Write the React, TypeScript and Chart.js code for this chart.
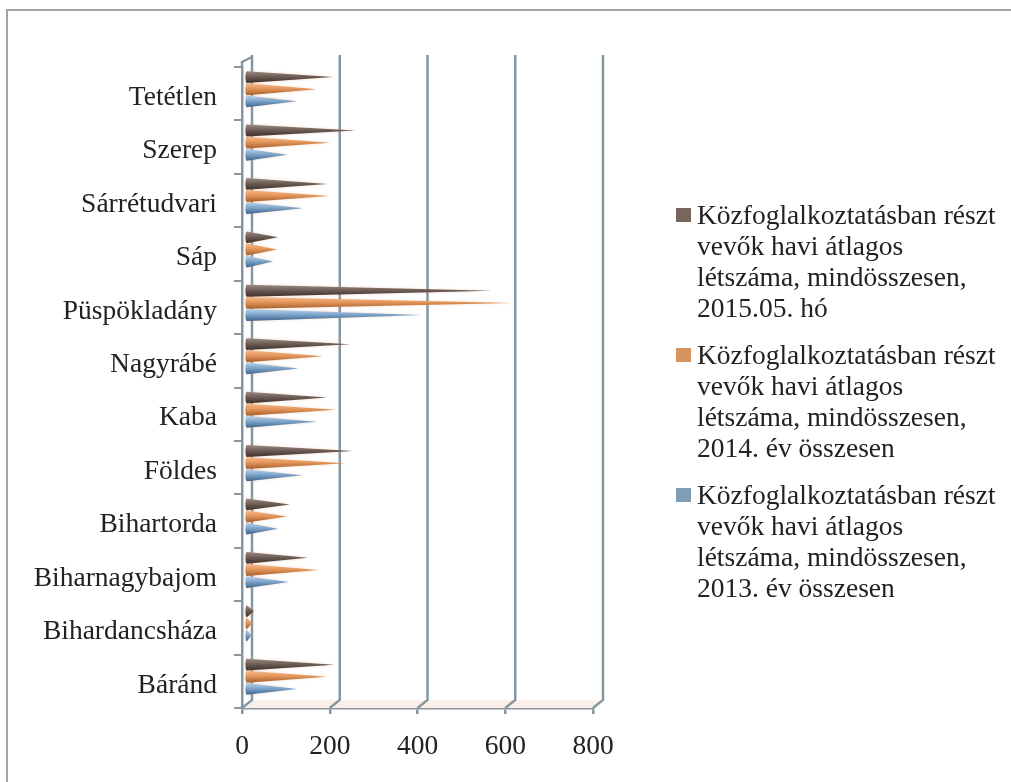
import React, { useEffect, useRef } from "react";
import { Chart, registerables } from "chart.js";

Chart.register(...registerables);

// ---- data ----
const categories = [
  "Tetétlen",
  "Szerep",
  "Sárrétudvari",
  "Sáp",
  "Püspökladány",
  "Nagyrábé",
  "Kaba",
  "Földes",
  "Bihartorda",
  "Biharnagybajom",
  "Bihardancsháza",
  "Báránd",
];
const values2015 = [200, 250, 186, 74, 562, 238, 186, 245, 101, 142, 19, 202];
const values2014 = [163, 193, 190, 72, 610, 177, 206, 227, 95, 165, 15, 186];
const values2013 = [117, 95, 131, 63, 402, 120, 163, 129, 74, 99, 13, 117];
const seriesNames = [
  "Közfoglalkoztatásban részt\nvevők havi átlagos\nlétszáma, mindösszesen,\n2015.05. hó",
  "Közfoglalkoztatásban részt\nvevők havi átlagos\nlétszáma, mindösszesen,\n2014. év összesen",
  "Közfoglalkoztatásban részt\nvevők havi átlagos\nlétszáma, mindösszesen,\n2013. év összesen",
];
const xTicks = [0, 200, 400, 600, 800];

// ---- style ----
const legendColors = ["#76665e", "#d4925f", "#7f9db4"];
const coneColors = [
  ["#9b8c84", "#6e5e56", "#3b2e28"],
  ["#f5bb8c", "#e3965a", "#a55d2a"],
  ["#bcd3e8", "#80a6cc", "#3b638c"],
];
const GRID = "#8797a1";
const FONT = "'Liberation Serif', serif";
const DX = 10; // depth offset x
const DY = -8; // depth offset y
const OX = 3.5; // cone offset
const OY = -4.5;

const deco = {
  id: "deco3d",
  beforeDraw(chart: any) {
    const ctx = chart.ctx;
    ctx.save();
    ctx.fillStyle = "#ffffff";
    ctx.fillRect(0, 0, chart.width, chart.height);
    ctx.strokeStyle = "#a3a3a3";
    ctx.lineWidth = 2;
    ctx.beginPath();
    ctx.moveTo(7, chart.height + 5);
    ctx.lineTo(7, 10);
    ctx.lineTo(chart.width + 5, 10);
    ctx.stroke();
    ctx.restore();
  },
  beforeDatasetsDraw(chart: any) {
    const ctx = chart.ctx;
    const a = chart.chartArea;
    const x = chart.scales.x;
    const x0 = x.getPixelForValue(xTicks[0]);
    const x1 = x.getPixelForValue(xTicks[xTicks.length - 1]);
    ctx.save();
    // floor
    ctx.fillStyle = "#fcefe9";
    ctx.beginPath();
    ctx.moveTo(x0, a.bottom);
    ctx.lineTo(x1, a.bottom);
    ctx.lineTo(x1 + DX, a.bottom + DY);
    ctx.lineTo(x0 + DX, a.bottom + DY);
    ctx.closePath();
    ctx.fill();
    ctx.strokeStyle = GRID;
    ctx.lineWidth = 2.5;
    for (const v of xTicks) {
      const px = x.getPixelForValue(v);
      ctx.beginPath();
      ctx.moveTo(px, a.bottom);
      ctx.lineTo(px + DX, a.bottom + DY);
      ctx.lineTo(px + DX, a.top - 12);
      ctx.stroke();
    }
    // front axis top & slant
    ctx.beginPath();
    ctx.moveTo(x0, a.top);
    ctx.lineTo(x0, a.top - 5);
    ctx.lineTo(x0 + DX, a.top - 10);
    ctx.stroke();
    ctx.restore();
  },
  afterDatasetsDraw(chart: any) {
    const ctx = chart.ctx;
    ctx.save();
    chart.data.datasets.forEach((_ds: any, i: number) => {
      const meta = chart.getDatasetMeta(i);
      const c = coneColors[i];
      meta.data.forEach((el: any) => {
        const p = el.getProps(["x", "y", "base", "height"], true);
        const bx = p.base + OX;
        const tx = p.x + OX;
        const cy = p.y + OY;
        const r = (p.height * 0.98) / 2;
        const g = ctx.createLinearGradient(0, cy - r, 0, cy + r);
        g.addColorStop(0, c[0]);
        g.addColorStop(0.45, c[1]);
        g.addColorStop(1, c[2]);
        ctx.fillStyle = g;
        ctx.shadowColor = "rgba(225,150,110,0.35)";
        ctx.shadowBlur = 3;
        ctx.beginPath();
        ctx.moveTo(bx, cy - r);
        ctx.lineTo(tx, cy);
        ctx.lineTo(bx, cy + r);
        ctx.ellipse(bx, cy, r * 0.22, r, 0, Math.PI / 2, Math.PI * 1.5);
        ctx.closePath();
        ctx.fill();
      });
    });
    ctx.restore();
  },
};

export default function App() {
  const ref = useRef<HTMLCanvasElement | null>(null);

  useEffect(() => {
    if (!ref.current) return;
    const chart = new Chart(ref.current, {
      type: "bar",
      data: {
        labels: categories,
        datasets: [
          { label: seriesNames[0], data: values2015, backgroundColor: "rgba(0,0,0,0)" },
          { label: seriesNames[1], data: values2014, backgroundColor: "rgba(0,0,0,0)" },
          { label: seriesNames[2], data: values2013, backgroundColor: "rgba(0,0,0,0)" },
        ],
      },
      options: {
        indexAxis: "y",
        responsive: false,
        animation: false,
        devicePixelRatio: 1,
        layout: { padding: { left: 0, top: 67, right: 418, bottom: 0 } },
        datasets: { bar: { categoryPercentage: 0.68, barPercentage: 1.0 } },
        plugins: { legend: { display: false }, tooltip: { enabled: false } },
        scales: {
          x: {
            type: "linear",
            min: 0,
            max: 800,
            afterFit: (s: any) => {
              s.height = 74;
            },
            afterBuildTicks: (s: any) => {
              s.ticks = xTicks.map((v) => ({ value: v }));
            },
            grid: { drawOnChartArea: false, drawTicks: true, tickLength: 6, color: GRID, lineWidth: 2.5 },
            border: { display: true, color: GRID, width: 2.5 },
            ticks: { font: { family: FONT, size: 27.5 }, color: "#222", padding: 16 },
          },
          y: {
            type: "category",
            afterFit: (s: any) => {
              s.width = 242;
            },
            grid: { drawOnChartArea: false, drawTicks: true, tickLength: 8, color: GRID, lineWidth: 2, offset: true },
            border: { display: true, color: GRID, width: 2.5 },
            ticks: { font: { family: FONT, size: 27.5 }, color: "#222", padding: 17, labelOffset: 4 },
          },
        },
      },
      plugins: [deco],
    });
    return () => chart.destroy();
  }, []);

  return (
    <div
      style={{
        position: "absolute",
        left: 0,
        top: 0,
        width: 1011,
        height: 782,
        overflow: "hidden",
        background: "#fff",
      }}
    >
      <canvas ref={ref} width={1011} height={782} style={{ display: "block" }} />
      <div style={{ position: "absolute", left: 676, top: 199 }}>
        {seriesNames.map((name, i) => (
          <div key={i} style={{ position: "relative", marginBottom: 16 }}>
            <div
              style={{
                position: "absolute",
                left: 0,
                top: 9,
                width: 15,
                height: 14,
                background: legendColors[i],
              }}
            />
            <div
              style={{
                marginLeft: 21,
                whiteSpace: "pre",
                fontFamily: FONT,
                fontSize: 27.5,
                lineHeight: "31px",
                color: "#222",
              }}
            >
              {name}
            </div>
          </div>
        ))}
      </div>
    </div>
  );
}
